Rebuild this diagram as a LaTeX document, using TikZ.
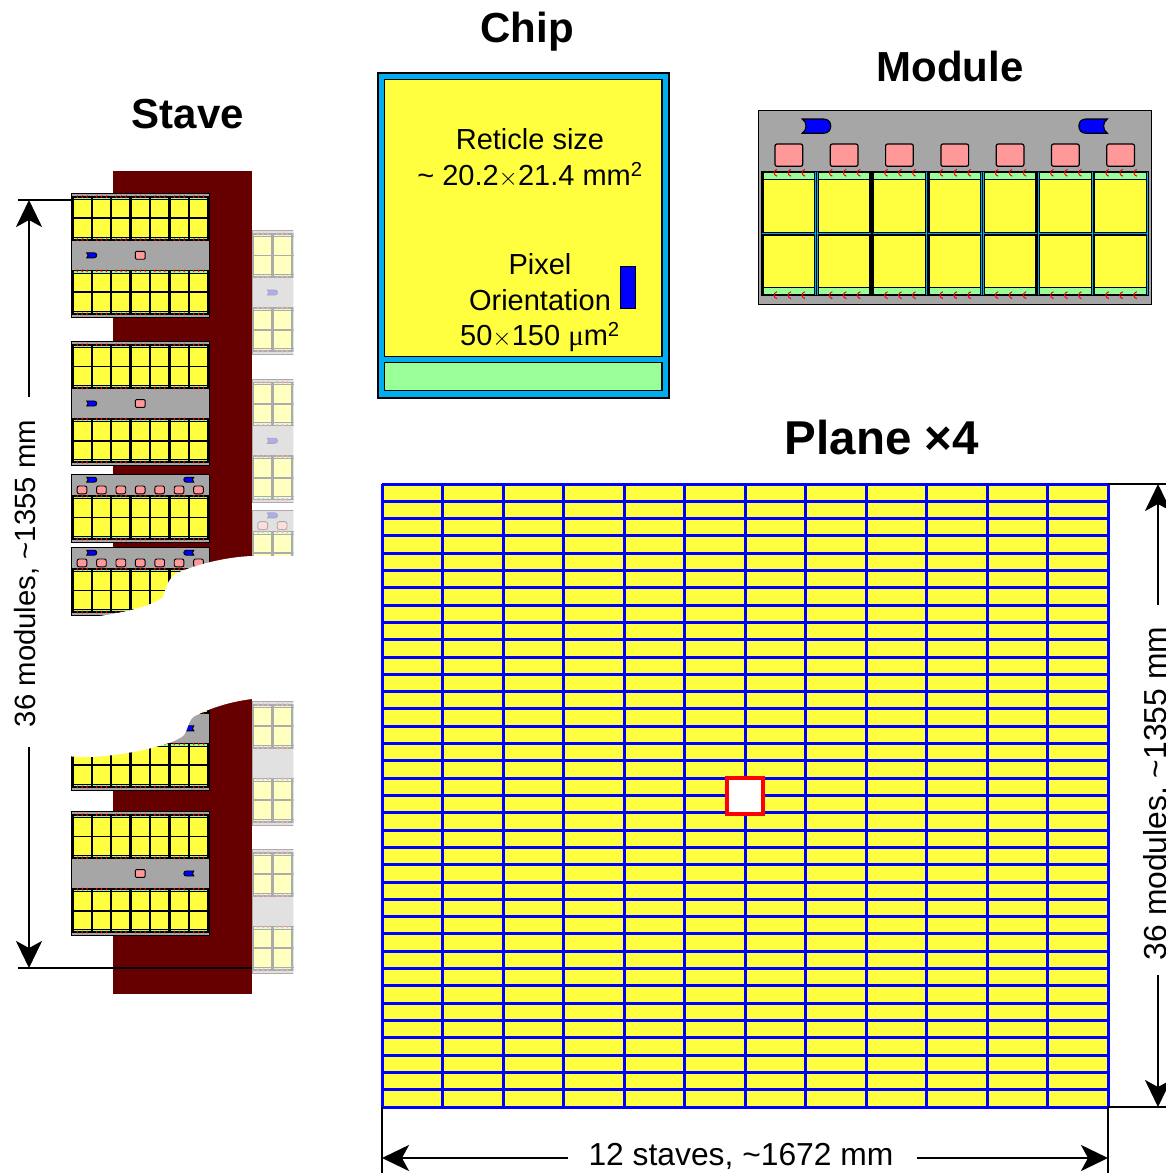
\documentclass[tikz,border=0pt]{standalone}
\usepackage{fontspec}
\setmainfont{Liberation Sans}
\newfontfamily\mufont{Liberation Serif}
\usetikzlibrary{arrows.meta,positioning}

\definecolor{chipyellow}{HTML}{FFFF40}
\definecolor{chipgreen}{HTML}{99FF99}
\definecolor{chipcyan}{HTML}{00ADEF}
\definecolor{modgrey}{HTML}{A6A6A6}
\definecolor{modpink}{HTML}{FF9999}
\definecolor{stavered}{HTML}{660000}

\tikzset{
    titlelabel/.style={font=\fontsize{42}{48}\bfseries\selectfont},
    textlabel/.style={font=\fontsize{29}{35}\selectfont},
    dimlabel/.style={font=\fontsize{31.8}{38}\selectfont},
    dim/.style={line width=2.5pt, -{Stealth[length=27pt,width=26pt,inset=7pt]}},
    tick/.style={line width=2.5pt},
    bondwire/.style={red, line width=\bondlw},
    frame/.style={draw=black, line width=\framelw},
}
\newcommand{\framelw}{1pt}
\newcommand{\bondlw}{1pt}

% chips of one module, in the coordinates of the large module
\newcommand{\modulechips}{
  \foreach \k in {0,...,6} {
    \begin{scope}[shift={(55.3*\k,0)}]
      \filldraw[frame, fill=chipcyan] (3,60.7) rectangle (58.3,184.7);
      \filldraw[frame, fill=chipgreen] (4.7,62) rectangle (56.4,69);
      \filldraw[frame, fill=chipgreen] (4.7,176.6) rectangle (56.4,183.5);
      \filldraw[frame, fill=chipyellow] (4.7,69) rectangle (56.4,121.6);
      \filldraw[frame, fill=chipyellow] (4.7,124.3) rectangle (56.4,176.6);
      \foreach \b in {16.7,30.7,44.7} {
        \draw[bondwire] (\b+2,58.7) .. controls (\b-2,60) and (\b-2,64) .. (\b+2,65.5);
        \draw[bondwire] (\b+2,181) .. controls (\b-2,182.5) and (\b-2,186.5) .. (\b+2,188);
      }
    \end{scope}
  }
}
% one connector, 28.4 wide
\newcommand{\moduleplug}[1]{
  \filldraw[frame, fill=blue, shift={#1}] (0,0) -- (21,0) .. controls (26,0) and (28.4,3) .. (28.4,7.1)
    .. controls (28.4,11) and (26,14.3) .. (21,14.3) -- (0,14.3) .. controls (5,11) and (5,3) .. (0,0) -- cycle;
}
\newcommand{\modulepink}[3]{
  \filldraw[frame, fill=modpink, rounded corners=#3] (16.7+55.3*#1,#2) rectangle +(27.7,22.3);
}

% module with all its parts, upper left corner at (#1,#2), scale #3
\newcommand{\fullmodule}[3]{
  \begin{scope}[shift={(#1,#2)}, scale=#3]
    \filldraw[frame, fill=modgrey] (0,0) rectangle (393,193.5);
    \modulechips
    \foreach \k in {0,...,6} {\modulepink{\k}{33.3}{2pt}}
    \moduleplug{(44,8.3)}
    \begin{scope}[shift={(393,0)}, xscale=-1]
      \moduleplug{(44,8.3)}
    \end{scope}
  \end{scope}
}
% two modules back to back, #3 is what lies on the middle band
\newcommand{\stavepair}[3]{
  \begin{scope}[shift={(#1,#2)}, scale=0.351]
    \filldraw[frame, fill=modgrey] (0,0) rectangle (393,352);
    \begin{scope}[shift={(0,158.5)}]
      \modulechips
    \end{scope}
    \begin{scope}[shift={(0,193.5)}, yscale=-1]
      \modulechips
    \end{scope}
    #3
  \end{scope}
}
\newcommand{\bandleft}{
  \moduleplug{(44,168.9)}
  \modulepink{3}{164.9}{1pt}
}
\newcommand{\bandright}{
  \begin{scope}[shift={(393,0)}, xscale=-1]
    \moduleplug{(44,168.9)}
  \end{scope}
  \modulepink{3}{164.9}{1pt}
}

\begin{document}
\begin{tikzpicture}[x=1pt, y=-1pt]

\clip (0,0) rectangle (1166,1173);

% Stave
\node[titlelabel] (stavetitle) at (188,114) {Stave};
\fill[stavered] (113,171) rectangle (252,994);

% far side of the stave
\begin{scope}
  \clip (252,200) rectangle (293,1000);
  \renewcommand{\framelw}{0.9pt}
  \stavepair{252}{230.7}{\bandleft}
  \stavepair{252}{379}{\bandleft}
  \fullmodule{252}{510}{0.351}
  \stavepair{252}{701.5}{\bandright}
  \stavepair{252}{849.5}{\bandright}
  \fill[white, opacity=0.67] (252,200) rectangle (293,1000);
\end{scope}

% near side of the stave
\renewcommand{\framelw}{0.9pt}
\renewcommand{\bondlw}{0.8pt}
\stavepair{71.3}{193.5}{\bandleft}
\stavepair{71.3}{341.7}{\bandleft}
\fullmodule{71.3}{474.3}{0.351}
\fullmodule{71.3}{547.3}{0.351}
\stavepair{71.3}{666.5}{\bandright}
\stavepair{71.3}{811.7}{\bandright}

% torn out part
\fill[white] (294,556) -- (252,556) .. controls (225,557) and (195,565) .. (177,573)
  .. controls (168,578) and (165,590) .. (163,597) .. controls (150,607) and (125,612) .. (100,616)
  -- (60,617) -- (60,756) -- (85,757) .. controls (120,757) and (175,745) .. (184,735)
  .. controls (189,728) and (188,718) .. (197,715) .. controls (215,706) and (235,701) .. (252,699)
  -- (294,699) -- cycle;

% Stave length
\coordinate (stavetopl) at (18,200);
\coordinate (stavetopr) at (71,200);
\coordinate (stavebotl) at (18,968);
\coordinate (stavebotr) at (252,968);
\draw[tick] (stavetopl) -- (stavetopr);
\draw[tick] (stavebotl) -- (stavebotr);
\node[textlabel, font=\fontsize{29.3}{35}\selectfont, rotate=90, anchor=base] (stavelength) at (35,573.5) {36 modules, \textasciitilde 1355 mm};
\coordinate (stavearrowtop) at (29,200);
\coordinate (stavearrowbot) at (29,968);
\draw[dim] (29,397) -- (stavearrowtop);
\draw[dim] (29,747) -- (stavearrowbot);

% Chip
\node[titlelabel] (chiptitle) at (527,32) {Chip};
\filldraw[draw=black, line width=1.2pt, fill=chipcyan] (378,73) rectangle (669,398);
\filldraw[draw=black, line width=1.2pt, fill=chipyellow] (384.5,79.5) rectangle (662,356.7);
\filldraw[draw=black, line width=1.2pt, fill=chipgreen] (384.5,362.7) rectangle (662,390.7);
\filldraw[draw=black, line width=1.2pt, fill=blue] (620.7,266.7) rectangle (635.3,308.3);
\node[textlabel] (reticle) at (530,139) {Reticle size};
\node[textlabel] (reticlesize) at (530,175) {\textasciitilde{} 20.2$\times$21.4 mm\textsuperscript{2}};
\node[textlabel] (pixel) at (540,264) {Pixel};
\node[textlabel] (orientation) at (540,300) {Orientation};
\node[textlabel] (pixelsize) at (540,337) {50$\times$150 {\mufont μ}m\textsuperscript{2}};

% Module
\node[titlelabel] (moduletitle) at (950,66) {Module};
\renewcommand{\framelw}{1.2pt}
\renewcommand{\bondlw}{1pt}
\fullmodule{758.3}{110.7}{1}

% Plane
\node[titlelabel, font=\fontsize{47.5}{54}\bfseries\selectfont] (planetitle) at (882,438) {Plane ×4};
\fill[chipyellow] (382,484) rectangle (1108,1107);
\foreach \r in {0,...,36}
  \draw[blue, line width=3pt] (382,484+17.306*\r) -- (1108,484+17.306*\r);
\foreach \c in {0,...,12}
  \draw[blue, line width=3pt] (382+60.5*\c,484) -- (382+60.5*\c,1107);
\filldraw[draw=red, line width=3.5pt, fill=white] (727,778) rectangle (763,814);

% Plane size
\coordinate (planetr) at (1108,484);
\coordinate (planebr) at (1108,1107);
\coordinate (planebl) at (382,1107);
\coordinate (tickright) at (1166,484);
\coordinate (tickbotr) at (1166,1107);
\coordinate (tickbotl) at (382,1173);
\coordinate (tickbotm) at (1108,1173);
\draw[tick] (planetr) -- (tickright);
\draw[tick] (planebr) -- (tickbotr);
\draw[tick] (planebl) -- (tickbotl);
\draw[tick] (planebr) -- (tickbotm);
\node[dimlabel, rotate=90, anchor=base] (planeheight) at (1166,793.5) {36 modules, \textasciitilde 1355 mm};
\node[dimlabel, anchor=base] (planewidth) at (741,1165) {12 staves, \textasciitilde 1672 mm};
\coordinate (planearrowtop) at (1158,484);
\coordinate (planearrowbot) at (1158,1107);
\coordinate (planearrowl) at (382,1158);
\coordinate (planearrowr) at (1108,1158);
\draw[dim] (1158,605) -- (planearrowtop);
\draw[dim] (1158,975) -- (planearrowbot);
\draw[dim] (568,1158) -- (planearrowl);
\draw[dim] (917,1158) -- (planearrowr);

\end{tikzpicture}
\end{document}
